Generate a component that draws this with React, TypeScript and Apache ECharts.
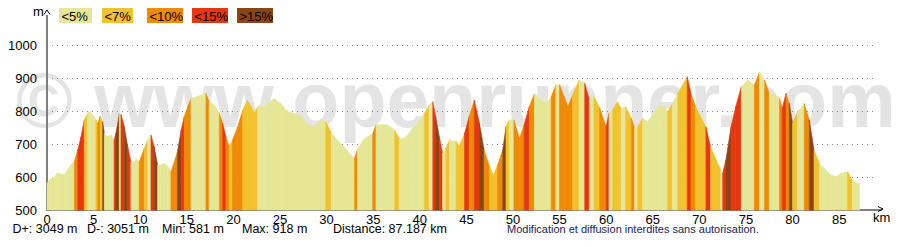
import React, { useEffect, useRef } from 'react';
import * as echarts from 'echarts';

const distanceKm = [
  0, 0.4, 0.8, 1.15, 1.5, 1.86, 2.2, 2.55, 2.93, 3.3, 3.65, 4.0, 4.37, 4.55, 4.9, 5.26, 5.44, 5.72, 5.97, 6.15,
  6.5, 6.87, 7.2, 7.4, 7.76, 7.94, 8.3, 8.66, 9.0, 9.37, 9.55, 9.9, 10.44, 10.8, 11.16, 11.5, 11.87, 12.2, 12.6, 12.95,
  13.3, 13.66, 14.0, 14.4, 14.73, 15.1, 15.45, 16.2, 17.06, 17.4, 17.95, 18.5, 18.85, 19.2, 19.56, 19.9, 20.46, 21.0, 21.5, 21.9,
  22.25, 22.6, 22.96, 23.3, 23.7, 24.4, 25.1, 25.8, 26.5, 27.25, 28.0, 28.7, 29.4, 29.9, 30.5, 31.2, 31.5, 32.3, 33.0, 33.3,
  33.9, 34.4, 34.95, 35.3, 35.8, 36.55, 37.3, 37.8, 38.3, 38.7, 39.24, 39.8, 40.5, 41.0, 41.4, 41.7, 42.1, 42.45, 42.8, 43.2,
  43.5, 43.9, 44.2, 44.8, 45.3, 45.85, 46.4, 46.9, 47.5, 47.9, 48.35, 48.9, 49.25, 49.6, 50.1, 50.7, 51.2, 51.75, 52.3, 53.0,
  53.6, 54.1, 54.6, 55.0, 55.5, 55.9, 56.4, 57.1, 57.7, 58.2, 58.7, 59.3, 60.0, 60.3, 60.7, 61.2, 61.6, 62.1, 62.7, 63.05,
  63.4, 63.9, 64.45, 65.0, 65.7, 66.2, 66.6, 67.1, 67.7, 68.2, 68.7, 69.1, 69.6, 70.2, 70.7, 71.2, 71.8, 72.3, 72.5, 72.85,
  73.4, 73.9, 74.5, 75.2, 75.9, 76.45, 77.0, 77.5, 78.1, 78.6, 78.9, 79.3, 79.65, 80.0, 80.55, 81.25, 81.8, 82.3, 82.9, 83.4,
  84.1, 84.7, 85.2, 85.9, 86.4, 86.9, 87.187,
];
const elevationM = [
  581, 595, 601, 613, 608, 608, 621, 636, 648, 682, 722, 773, 793, 800, 788, 773, 763, 785, 768, 733,
  722, 727, 712, 733, 793, 790, 752, 692, 646, 646, 653, 646, 687, 712, 727, 692, 636, 636, 641, 633,
  616, 646, 677, 742, 783, 813, 838, 845, 853, 828, 818, 793, 763, 722, 692, 712, 752, 803, 833, 813,
  793, 813, 818, 813, 823, 838, 823, 798, 793, 785, 760, 752, 773, 768, 735, 710, 702, 677, 657, 682,
  712, 722, 732, 758, 758, 758, 742, 717, 717, 727, 748, 763, 793, 818, 828, 783, 722, 672, 687, 714,
  709, 709, 692, 732, 783, 833, 763, 682, 631, 606, 636, 682, 752, 773, 773, 717, 758, 813, 853, 833,
  823, 843, 879, 879, 843, 813, 849, 894, 884, 833, 843, 810, 752, 793, 803, 828, 808, 813, 778, 748,
  752, 778, 768, 788, 818, 813, 798, 823, 853, 879, 904, 853, 813, 778, 752, 692, 652, 621, 611, 652,
  752, 813, 874, 894, 879, 918, 894, 853, 849, 838, 808, 853, 823, 763, 798, 823, 773, 682, 641, 626,
  606, 601, 611, 616, 591, 581, 581,
];

const slopeClassLabels = ['<5%', '<7%', '<10%', '<15%', '>15%'];
const slopeClassLimits = [5, 7, 10, 15];
const statsLabels = ['D+: 3049 m', 'D-: 3051 m', 'Min: 581 m', 'Max: 918 m', 'Distance: 87.187 km'];
const disclaimerText = 'Modification et diffusion interdites sans autorisation.';
const watermarkText = '\u00a9 www.openrunner.com';
const yUnit = 'm';
const xUnit = 'km';

// ---- Styles / layout ----
const slopeColors = ['#e6e697', '#f2c22c', '#ef8a04', '#e6380f', '#8b4515'];
const FONT = '"Liberation Sans", Arial, Helvetica, sans-serif';
const legendLayout = { x: [59, 102, 147, 192, 237], w: [33, 31, 36, 36, 36], y: 8, h: 15 };
const statsX = [12.5, 87, 162, 242, 333];
const BASE = 500;

function slopeClass(d0: number, e0: number, d1: number, e1: number) {
  const pct = (Math.abs(e1 - e0) / ((d1 - d0) * 1000)) * 100;
  let c = 0;
  while (c < slopeClassLimits.length && pct >= slopeClassLimits[c]) c++;
  return c;
}

export default function App() {
  const ref = useRef<HTMLDivElement>(null);
  useEffect(() => {
    if (!ref.current) return;
    const chart = echarts.init(ref.current, undefined, { renderer: 'svg' });
    const segments: number[][] = [];
    for (let i = 0; i < distanceKm.length - 1; i++) {
      segments.push([
        distanceKm[i], elevationM[i], distanceKm[i + 1], elevationM[i + 1],
        slopeClass(distanceKm[i], elevationM[i], distanceKm[i + 1], elevationM[i + 1]),
      ]);
    }
    const txt = (x: number, y: number, text: string, font: string, fill = '#000', extra: any = {}) => ({
      type: 'text', x, y, silent: true, ...extra,
      style: { text, font, fill, align: 'left', verticalAlign: 'middle' },
    });
    const graphics: any[] = [
      txt(16, 100, watermarkText, `bold 77px ${FONT}`, '#e4e4e4', { z: -5 }),
    ];
    slopeClassLabels.forEach((lab, i) => {
      graphics.push({
        type: 'rect', shape: { x: legendLayout.x[i], y: legendLayout.y, width: legendLayout.w[i], height: legendLayout.h },
        style: { fill: slopeColors[i] },
      });
      graphics.push(txt(legendLayout.x[i] + 2.5, legendLayout.y + legendLayout.h / 2 + 0.5, lab, `13px ${FONT}`));
    });
    graphics.push(
      { type: 'line', shape: { x1: 47, y1: 15, x2: 47, y2: 46 }, style: { stroke: '#7f7f7f', lineWidth: 2 } },
      { type: 'polyline', shape: { points: [[44, 14.5], [47, 10], [50, 14.5]] }, style: { stroke: '#000', lineWidth: 1, fill: null } },
      txt(33, 11, yUnit, `13px ${FONT}`),
      { type: 'line', shape: { x1: 872, y1: 210, x2: 882, y2: 210 }, style: { stroke: '#7f7f7f', lineWidth: 2 } },
      { type: 'polyline', shape: { points: [[878, 206.5], [883, 209], [878, 211.5]] }, style: { stroke: '#000', lineWidth: 1, fill: null } },
      txt(873, 217.5, xUnit, `13px ${FONT}`),
    );
    statsLabels.forEach((s, i) => {
      graphics.push(txt(statsX[i], 229, s, `12.5px ${FONT}`));
    });
    graphics.push(txt(507, 229, disclaimerText, `11px ${FONT}`, '#1c1c55'));

    chart.setOption({
      animation: false,
      backgroundColor: '#ffffff',
      grid: { left: 47, right: 31, top: 45, bottom: 37, containLabel: false },
      xAxis: {
        type: 'value', min: 0, max: 88.63, interval: 5,
        axisLine: { show: true, lineStyle: { color: '#7f7f7f', width: 2 } },
        axisTick: { show: false },
        splitLine: { show: false },
        axisLabel: { color: '#000', fontSize: 13, fontFamily: FONT, margin: 3, showMaxLabel: false, formatter: (v: number) => String(v) },
      },
      yAxis: {
        type: 'value', min: 500, max: 1000, interval: 100,
        axisLine: { show: true, lineStyle: { color: '#7f7f7f', width: 2 } },
        axisTick: { show: false },
        splitLine: { show: true, lineStyle: { color: '#8a8a8a', width: 1, type: [1, 4] } },
        axisLabel: { color: '#000', fontSize: 13, fontFamily: FONT, margin: 10, formatter: (v: number) => String(v) },
      },
      graphic: { elements: graphics },
      series: [
        {
          type: 'custom',
          z: 2,
          silent: true,
          encode: { x: [0, 2], y: [1, 3] },
          data: segments,
          renderItem: (_params: any, api: any) => {
            const x0 = api.value(0), y0 = api.value(1), x1 = api.value(2), y1 = api.value(3);
            const col = slopeColors[api.value(4)];
            const a = api.coord([x0, BASE]);
            const b = api.coord([x0, y0]);
            const c = api.coord([x1, y1]);
            const d = api.coord([x1, BASE]);
            return {
              type: 'polygon',
              shape: { points: [a, b, c, d] },
              style: { fill: col, stroke: col, lineWidth: 0.6 },
            };
          },
        },
      ],
    });
    return () => chart.dispose();
  }, []);
  return (
    <div
      ref={ref}
      style={{ position: 'absolute', left: 0, top: 0, width: 904, height: 247, background: '#fff' }}
    />
  );
}
